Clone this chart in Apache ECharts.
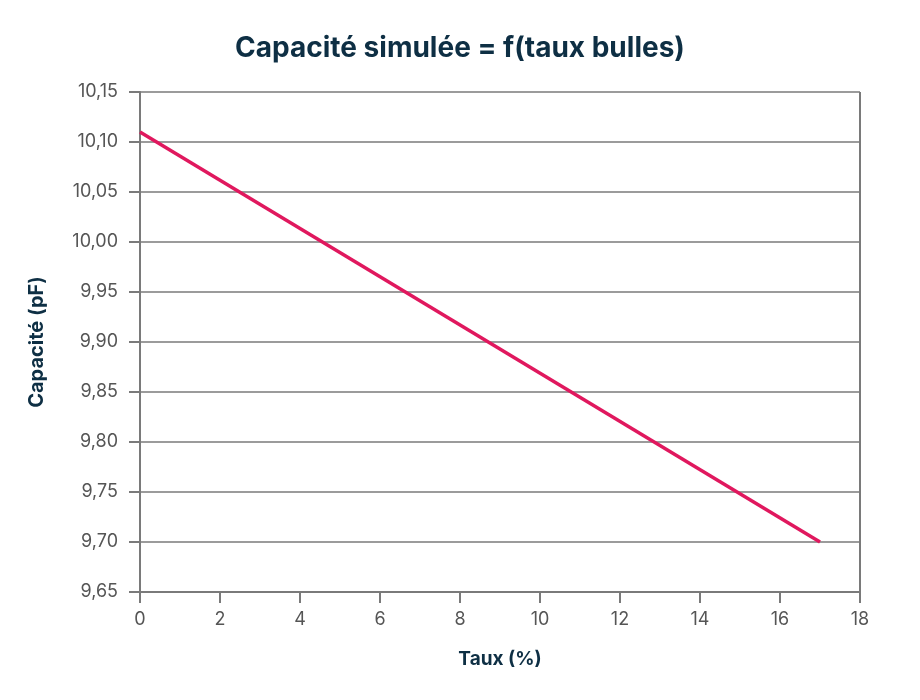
<!DOCTYPE html>
<html>
<head>
<meta charset="utf-8">
<script src="https://cdn.jsdelivr.net/npm/echarts@6/dist/echarts.min.js"></script>
<style>
  html, body { margin: 0; padding: 0; background: #fff; }
  #chart { width: 920px; height: 700px; }
</style>
</head>
<body>
<div id="chart"></div>
<script>
// donnees
var tauxBulles = [0, 17];          // taux (%)
var capacite = [10.11, 9.70];      // capacite (pF)
var titre = 'Capacité simulée = f(taux bulles)';

var points = tauxBulles.map(function (x, i) { return [x, capacite[i]]; });

var chart = echarts.init(document.getElementById('chart'));
var axisGris = '#7a7a7a';
var texteFonce = '#0e2f44';

var option = {
    backgroundColor: '#fff',
    title: {
        text: titre,
        left: 'center',
        top: 30,
        textStyle: { fontFamily: 'Inter', fontSize: 28, fontWeight: 'bold', color: texteFonce }
    },
    grid: { left: 140, right: 60, top: 92, bottom: 108 },
    xAxis: {
        type: 'value',
        min: 0, max: 18, interval: 2,
        name: 'Taux (%)',
        nameLocation: 'middle',
        nameGap: 58,
        nameTextStyle: { fontFamily: 'Inter', fontSize: 19, fontWeight: 'bold', color: texteFonce },
        axisLine: { onZero: false, lineStyle: { color: axisGris, width: 2 } },
        axisTick: { show: true, length: 11, lineStyle: { color: axisGris, width: 2 } },
        axisLabel: { fontFamily: 'Inter', fontSize: 18, color: '#555', margin: 19 },
        splitLine: { show: false }
    },
    yAxis: {
        type: 'value',
        min: 9.65, max: 10.15, interval: 0.05,
        name: 'Capacité (pF)',
        nameLocation: 'middle',
        nameGap: 93,
        nameTextStyle: { fontFamily: 'Inter', fontSize: 20, fontWeight: 'bold', color: texteFonce },
        axisLine: { show: true, lineStyle: { color: axisGris, width: 2 } },
        axisTick: { show: true, length: 11, lineStyle: { color: axisGris, width: 2 } },
        axisLabel: {
            fontFamily: 'Inter', fontSize: 18, color: '#555', margin: 22,
            formatter: function (v) { return v.toFixed(2).replace('.', ','); }
        },
        splitLine: { show: true, lineStyle: { color: axisGris, width: 1.5 } }
    },
    series: [{
        type: 'line',
        data: points,
        showSymbol: false,
        lineStyle: { color: '#e0185e', width: 3.5 },
        silent: true
    }, {
        // cadre droit
        type: 'line',
        data: [],
        markLine: {
            silent: true, symbol: 'none', label: { show: false },
            lineStyle: { color: axisGris, width: 2, type: 'solid' },
            data: [{ xAxis: 18 }]
        }
    }],
    animation: false
};
chart.setOption(option, true);
</script>
</body>
</html>
